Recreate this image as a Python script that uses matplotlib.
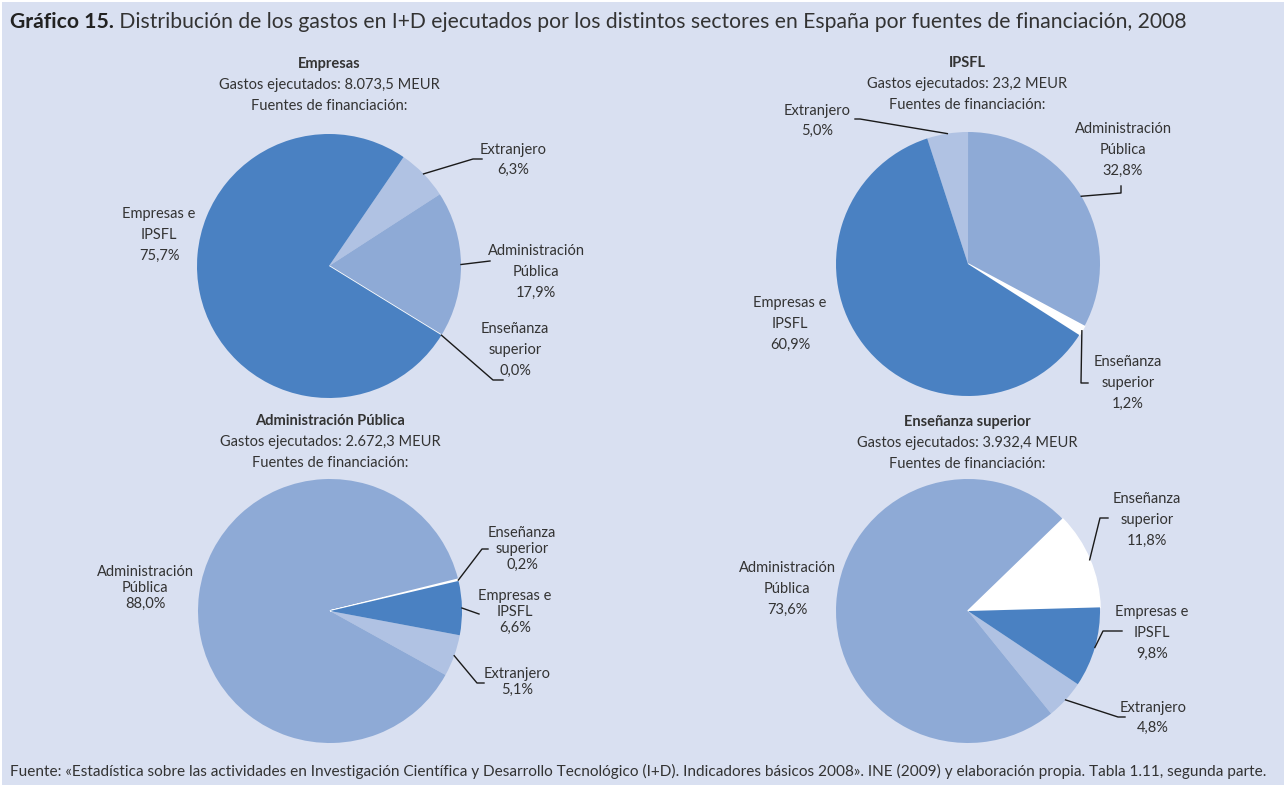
import numpy as np
import matplotlib.pyplot as plt

W, H = 1286, 787

# ---- data ----
fuentes = ["Extranjero", "Administración\nPública", "Enseñanza\nsuperior", "Empresas e\nIPSFL"]
sectores = ["Empresas", "IPSFL", "Administración Pública", "Enseñanza superior"]
gastos = ["8.073,5", "23,2", "2.672,3", "3.932,4"]
pct_empresas = [6.3, 17.9, 0.0, 75.7]
pct_ipsfl = [5.0, 32.8, 1.2, 60.9]
pct_admin = [5.1, 88.0, 0.2, 6.6]
pct_ensenanza = [4.8, 73.6, 11.8, 9.8]

colores = ["#b0c2e3", "#8eaad6", "#ffffff", "#4a81c2"]
bg = "#d9e0f1"
txt = "#333333"
FONT = ["Lato", "DejaVu Sans"]

plt.rcParams['font.family'] = FONT

# layout of each pie, in pixel units of the 1286x787 picture
# lbl: (x, y) centre of label, lead: extra points of the leader line (None = no leader)
layout = [
    dict(vals=pct_empresas, c=(329, 266), r=132, start=55.6, head=(329, 64), ls=1.6,
         lbl=[(513, 160), (536, 272), (515, 350), (159, 235)],
         lead=[[(473, 159), (482, 159)], [(490, 261)], [(493, 380), (503, 380)], None]),
    dict(vals=pct_ipsfl, c=(968, 264), r=132, start=108.0, head=(967, 63), ls=1.6,
         lbl=[(817, 121), (1123, 150), (1128, 383), (790, 324)],
         lead=[[(860, 119), (855, 119)], [(1121, 193), (1121, 186)], [(1081, 383), (1088, 383)], None]),
    dict(vals=pct_admin, c=(330, 611), r=132, start=-10.6, head=(330, 421), ls=1.18,
         lbl=[(517, 682), (145, 588), (522, 549), (515, 612)],
         lead=[[(477, 683), (484, 683)], None, [(482, 549), (488, 549)], [(479, 614)]]),
    dict(vals=pct_ensenanza, c=(968, 611), r=132, start=-33.7, head=(967, 422), ls=1.6,
         lbl=[(1153, 718), (787, 589), (1147, 520), (1152, 633)],
         lead=[[(1118, 717), (1125, 717)], None, [(1100, 518), (1108, 518)], [(1103, 631), (1122, 631)]]),
]


def P(x, y):
    return x, H - y


def fmt(v):
    return f"{v:.1f}".replace(".", ",") + "%"


fig = plt.figure(figsize=(W / 100, H / 100), dpi=100)
fig.patch.set_facecolor("white")
ax = fig.add_axes([0, 0, 1, 1])
ax.set_xlim(0, W)
ax.set_ylim(0, H)
ax.set_aspect("equal")
ax.axis("off")
ax.add_patch(plt.Rectangle((2, 2), W - 4, H - 4, facecolor=bg, edgecolor="none", zorder=0))

for sector, gasto, lay in zip(sectores, gastos, layout):
    wedges, _ = ax.pie(lay["vals"], colors=colores, startangle=lay["start"], counterclock=False,
                       center=P(*lay["c"]), radius=lay["r"], frame=True,
                       wedgeprops=dict(linewidth=0))
    # the Enseñanza slice gets a white rim (shows as a line when it is 0,0%)
    wedges[2].set_edgecolor("white")
    wedges[2].set_linewidth(1.2)

    cx, cy = P(*lay["c"])
    for w, name, v, (lx, ly), lead in zip(wedges, fuentes, lay["vals"], lay["lbl"], lay["lead"]):
        ax.text(*P(lx, ly), name + "\n" + fmt(v), ha="center", va="center",
                fontsize=10.5, color=txt, linespacing=lay["ls"], zorder=5)
        if lead is not None:
            a = np.deg2rad((w.theta1 + w.theta2) / 2)
            xs = [cx + lay["r"] * np.cos(a)] + [p[0] for p in lead]
            ys = [cy + lay["r"] * np.sin(a)] + [H - p[1] for p in lead]
            ax.plot(xs, ys, color="#1a1a1a", lw=1.0, zorder=4)

    hx, hy = lay["head"]
    ax.text(*P(hx, hy), sector, ha="center", va="center", fontsize=10.5,
            fontweight="bold", color=txt)
    ax.text(*P(hx, hy + 21), f"Gastos ejecutados: {gasto} MEUR", ha="center", va="center",
            fontsize=10.5, color=txt)
    ax.text(*P(hx, hy + 42), "Fuentes de financiación:", ha="center", va="center",
            fontsize=10.5, color=txt)

ax.set_xlim(0, W)
ax.set_ylim(0, H)

# main title: bold lead-in followed by normal text
t1 = ax.text(*P(10, 32), "Gráfico 15.", ha="left", va="bottom", fontsize=15.2,
             fontweight="bold", color="#222222")
ax.annotate(" Distribución de los gastos en I+D ejecutados por los distintos sectores en España "
            "por fuentes de financiación, 2008", xy=(1, 0), xycoords=t1, ha="left", va="bottom",
            fontsize=15.2, color="#333333")

ax.text(*P(10, 771), "Fuente: «Estadística sobre las actividades en Investigación Científica y "
        "Desarrollo Tecnológico (I+D). Indicadores básicos 2008». INE (2009) y elaboración propia. "
        "Tabla 1.11, segunda parte.", ha="left", va="center", fontsize=11.1, color=txt)

fig.savefig("out.png", dpi=100, facecolor=fig.get_facecolor())
